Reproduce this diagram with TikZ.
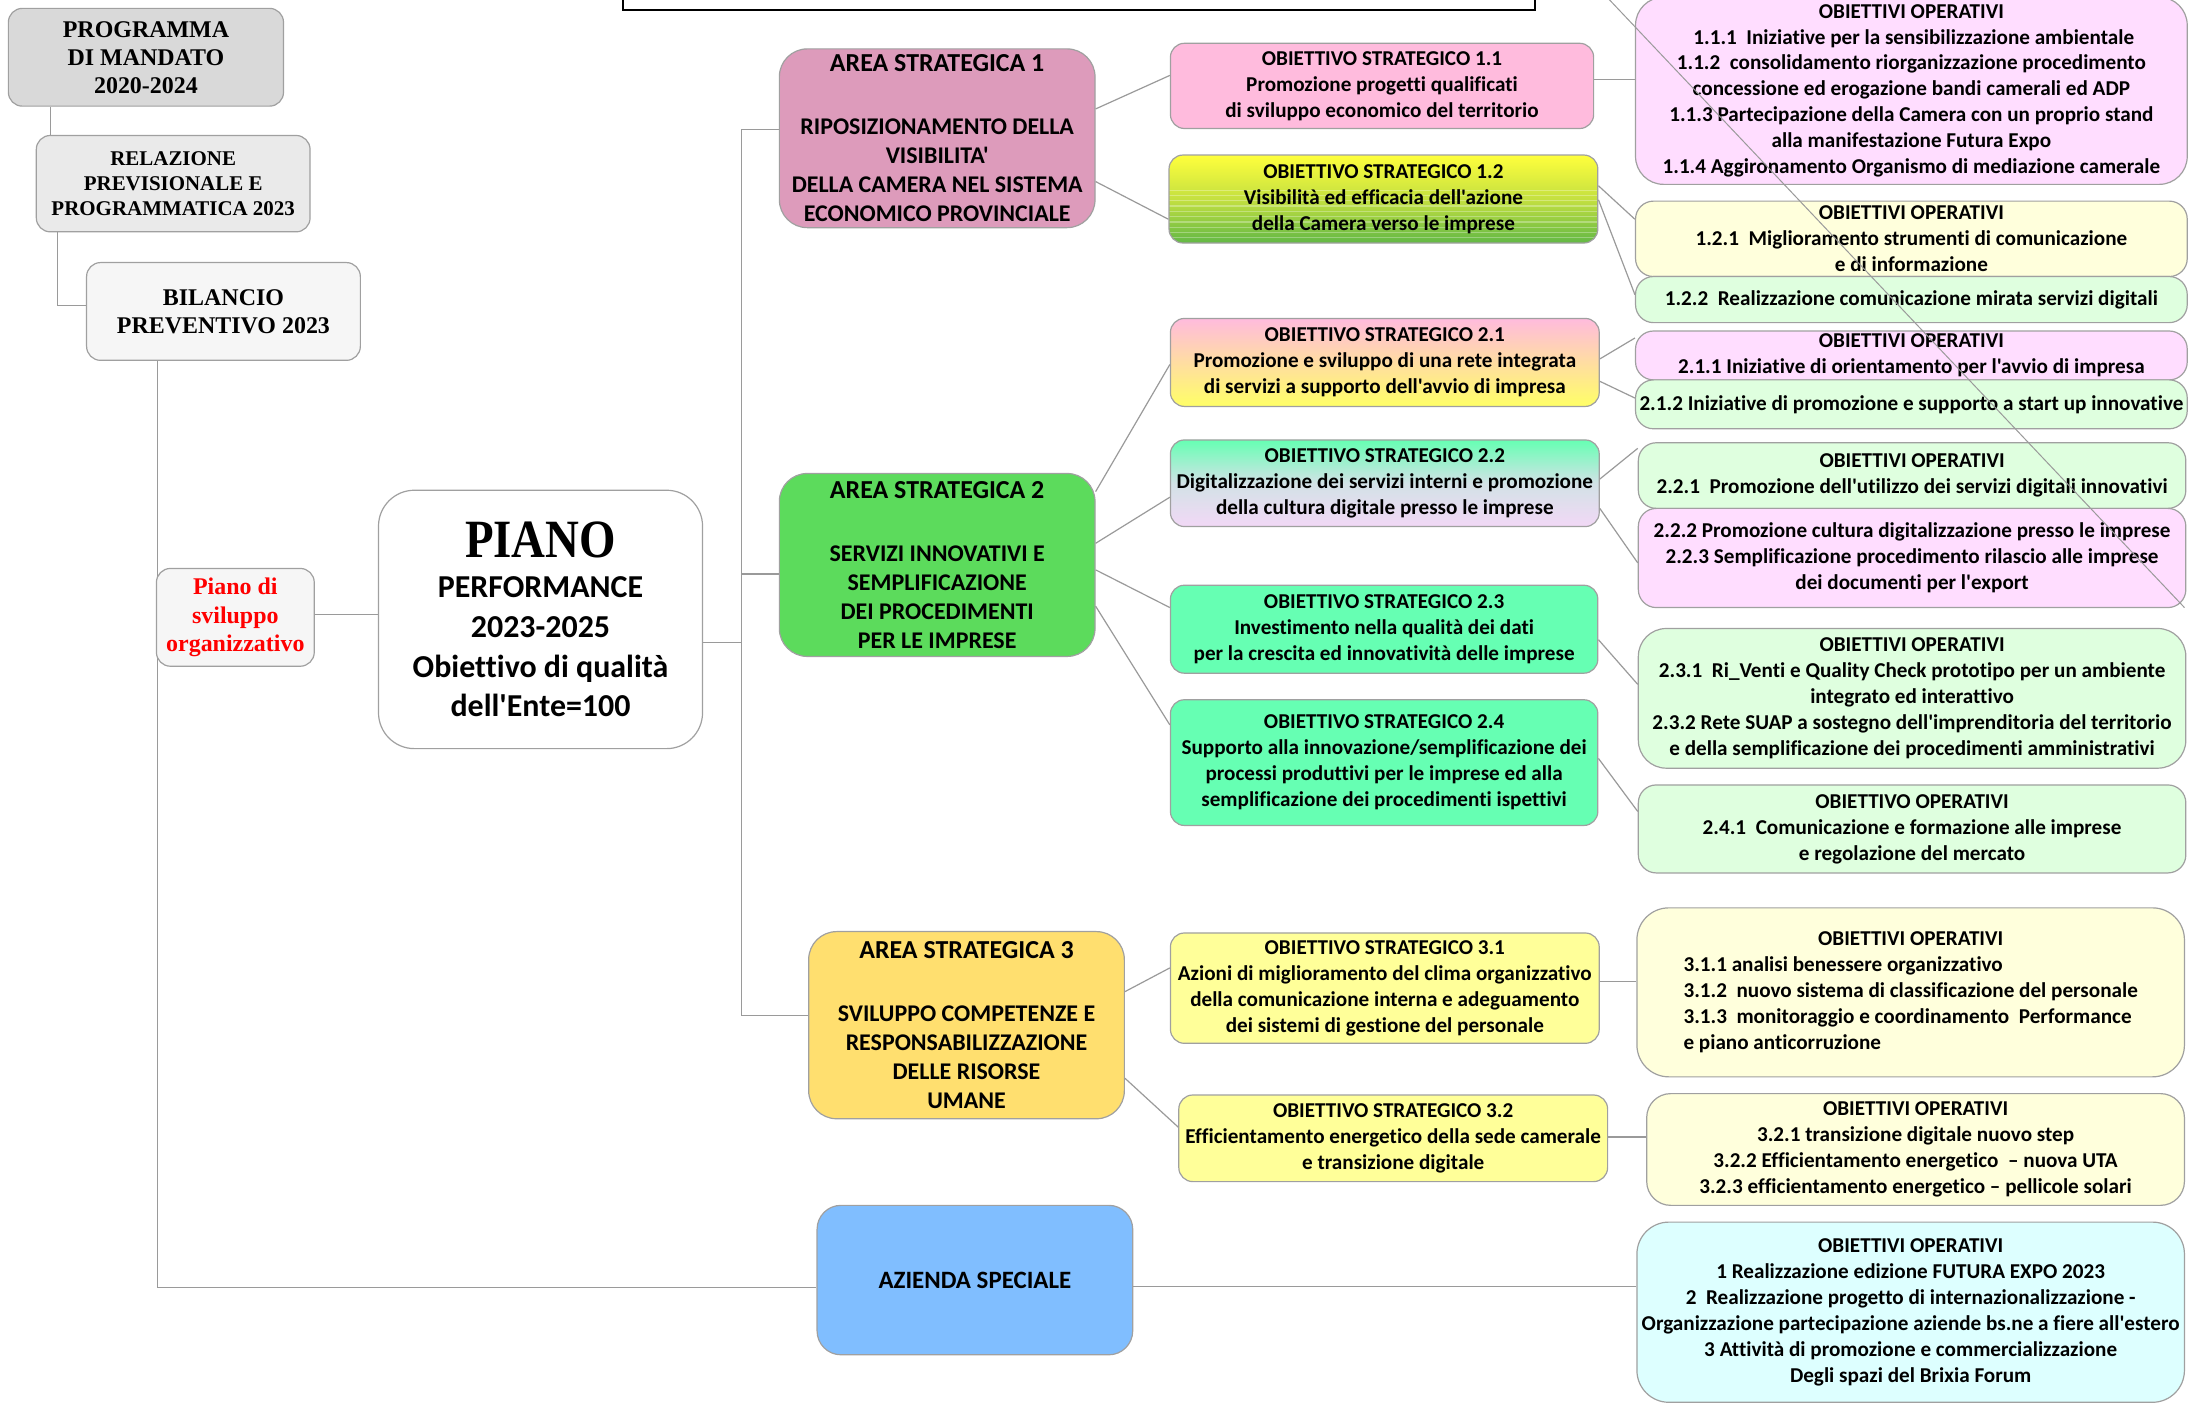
\documentclass[tikz,border=0pt]{standalone}
\usepackage{fontspec}
\setmainfont{Liberation Serif}
\newfontfamily\carl[Ligatures={NoCommon}]{Carlito}
\usetikzlibrary{calc}
\definecolor{bord}{HTML}{A0A0A0}
\definecolor{conncol}{HTML}{9A9A9A}
\definecolor{gA}{HTML}{D9D9D9}
\definecolor{gB}{HTML}{EAEAEA}
\definecolor{gC}{HTML}{F6F6F6}
\definecolor{areaA}{HTML}{DD9BBB}
\definecolor{areaB}{HTML}{5CDB5C}
\definecolor{areaC}{HTML}{FFDF6F}
\definecolor{azcol}{HTML}{80BEFF}
\definecolor{ospink}{HTML}{FFBBDD}
\definecolor{osmint}{HTML}{66FFB3}
\definecolor{osyel}{HTML}{FFFF99}
\definecolor{oopink}{HTML}{FFDDFF}
\definecolor{ooyel}{HTML}{FFFFDC}
\definecolor{oogreen}{HTML}{DFFFDF}
\definecolor{oocyan}{HTML}{DDFFFF}
\definecolor{grTop}{HTML}{FFFF3C}
\definecolor{grMid}{HTML}{C4E040}
\definecolor{grBot}{HTML}{62B845}
\definecolor{g2Mid}{HTML}{D2E2E6}
\definecolor{g2Bot}{HTML}{F2D8F6}
\definecolor{g1Bot}{HTML}{FFFF66}
\tikzset{
  box/.style={draw=bord, line width=0.6pt, rounded corners=7pt, inner sep=0pt, align=center, text=black},
  osbox/.style={box, font=\carl\bfseries\fontsize{10.6}{13}\selectfont},
  oobox/.style={box, rounded corners=9pt, font=\carl\bfseries\fontsize{10.6}{13}\selectfont},
  areabox/.style={box, rounded corners=14pt, font=\carl\bfseries\fontsize{12}{14.6}\selectfont},
  tmsbox/.style={box, font=\rmfamily\bfseries\fontsize{12}{14}\selectfont},
  conn/.style={draw=conncol, line width=0.6pt},
}
\newcommand\bx[7]{\node[#6, minimum width={(#4-#2)*0.7pt}, minimum height={(#5-#3)*0.7pt}] (#1) at ({(#2+#4)/2},{(#3+#5)/2}) {#7};}
\newcommand\atitle[1]{{\fontsize{13}{14.6}\selectfont #1}\\[17pt]}
\begin{document}
\begin{tikzpicture}[x=0.7pt,y=-0.7pt]
\useasboundingbox (0,0) rectangle (1568,1007);
\fill[white] (0,0) rectangle (1568,1007);
% top frame
\draw[black, line width=0.8pt, fill=white] (446,-20) rectangle (1099,7);
% left column
\bx{b1}{6}{6}{203}{76}{tmsbox, fill=gA}{PROGRAMMA\\DI MANDATO\\2020-2024}
\bx{b2}{26}{97}{222}{166}{tmsbox, fill=gB, font=\rmfamily\bfseries\fontsize{10.5}{12.3}\selectfont}{RELAZIONE\\PREVISIONALE E\\PROGRAMMATICA 2023}
\bx{b3}{62}{188}{258}{258}{tmsbox, fill=gC}{BILANCIO\\PREVENTIVO 2023}
\coordinate (tk1) at (531,93);
\coordinate (tk3) at (531,727);
% connectors on the left
\draw[conn] (b1.south -| 36,0) -- (b2.north -| 36,0);
\draw[conn] (b2.south -| 41,0) |- (b3.west |- 0,219);
\bx{az}{585}{863}{811}{970}{areabox, rounded corners=12pt, fill=azcol, font=\carl\bfseries\fontsize{12.5}{15}\selectfont}{AZIENDA SPECIALE}
\draw[conn] (b3.south -| 113,0) |- (az.west |- 0,922);
\bx{ps}{112}{407}{225}{477}{tmsbox, fill=gC, text=red, font=\rmfamily\bfseries\fontsize{12}{14.4}\selectfont}{Piano di\\sviluppo\\organizzativo}
\bx{piano}{271}{351}{503}{536}{box, rounded corners=18pt, fill=white, font=\carl\bfseries\fontsize{16}{20}\selectfont}{\scalebox{0.87}[1]{\rmfamily\fontsize{27}{20}\selectfont PIANO}\\PERFORMANCE\\2023-2025\\Obiettivo di qualità\\dell'Ente=100}
\draw[conn] (ps.east |- 0,440) -- (piano.west |- 0,440);
% areas
\bx{a1}{558}{35}{784}{163}{areabox, fill=areaA}{\atitle{AREA STRATEGICA 1}RIPOSIZIONAMENTO DELLA\\VISIBILITA'\\DELLA CAMERA NEL SISTEMA\\ECONOMICO PROVINCIALE}
\bx{a2}{558}{339}{784}{470}{areabox, fill=areaB}{\atitle{AREA STRATEGICA 2}SERVIZI INNOVATIVI E\\SEMPLIFICAZIONE\\DEI PROCEDIMENTI\\PER LE IMPRESE}
\bx{a3}{579}{667}{805}{801}{areabox, fill=areaC}{\atitle{AREA STRATEGICA 3}SVILUPPO COMPETENZE E\\RESPONSABILIZZAZIONE\\DELLE RISORSE\\UMANE}
\draw[conn] (piano.east |- 0,460) -- (tk1 |- 0,460);
\draw[conn] (a1.west |- tk1) -- (tk1) -- (tk3) -- (a3.west |- tk3);
\draw[conn] (tk1 |- 0,411) -- (a2.west |- 0,411);
% strategic objectives
\bx{os11}{838}{31}{1141}{92}{osbox, fill=ospink}{OBIETTIVO STRATEGICO 1.1\\Promozione progetti qualificati\\di sviluppo economico del territorio}
\bx{os12}{837}{111}{1144}{174}{osbox, top color=grTop, bottom color=grBot, middle color=grMid,
  path picture={\foreach \k in {0.40,0.46,...,0.97} \draw[white, opacity=0.3, line width=0.6pt] ($(path picture bounding box.north west)!\k!(path picture bounding box.south west)$) -- ($(path picture bounding box.north east)!\k!(path picture bounding box.south east)$);}}{OBIETTIVO STRATEGICO 1.2\\Visibilità ed efficacia dell'azione\\della Camera verso le imprese}
\bx{os21}{838}{228}{1145}{291}{osbox, top color=ospink, bottom color=g1Bot}{OBIETTIVO STRATEGICO 2.1\\Promozione e sviluppo di una rete integrata\\di servizi a supporto dell'avvio di impresa}
\bx{os22}{838}{315}{1145}{377}{osbox, top color=osmint, bottom color=g2Bot, middle color=g2Mid}{OBIETTIVO STRATEGICO 2.2\\Digitalizzazione dei servizi interni e promozione\\della cultura digitale presso le imprese}
\bx{os23}{838}{419}{1144}{482}{osbox, fill=osmint}{OBIETTIVO STRATEGICO 2.3\\Investimento nella qualità dei dati\\per la crescita ed innovatività delle imprese}
\bx{os24}{838}{501}{1144}{591}{osbox, fill=osmint}{OBIETTIVO STRATEGICO 2.4\\Supporto alla innovazione/semplificazione dei\\processi produttivi per le imprese ed alla\\semplificazione dei procedimenti ispettivi}
\bx{os31}{838}{668}{1145}{747}{osbox, fill=osyel}{OBIETTIVO STRATEGICO 3.1\\Azioni di miglioramento del clima organizzativo\\della comunicazione interna e adeguamento\\dei sistemi di gestione del personale}
\bx{os32}{844}{784}{1151}{846}{osbox, fill=osyel}{OBIETTIVO STRATEGICO 3.2\\Efficientamento energetico della sede camerale\\e transizione digitale}
\draw[conn] (a1.east |- 0,78) -- (os11.west |- 0,54);
\draw[conn] (a1.east |- 0,130) -- (os12.west |- 0,157);
\draw[conn] (a2.east |- 0,352) -- (os21.west |- 0,261);
\draw[conn] (a2.east |- 0,389) -- (os22.west |- 0,356);
\draw[conn] (a2.east |- 0,408) -- (os23.west |- 0,435);
\draw[conn] (a2.east |- 0,434) -- (os24.west |- 0,519);
\draw[conn] (a3.east |- 0,710) -- (os31.west |- 0,693);
\draw[conn] (a3.east |- 0,772) -- (os32.west |- 0,807);
% operative objectives
\bx{oo11}{1171}{-2}{1566}{132}{oobox, rounded corners=14pt, fill=oopink}{OBIETTIVI OPERATIVI\\~1.1.1~ Iniziative per la sensibilizzazione ambientale\\1.1.2~ consolidamento riorganizzazione procedimento\\concessione ed erogazione bandi camerali ed ADP\\1.1.3 Partecipazione della Camera con un proprio stand\\alla manifestazione Futura Expo\\1.1.4 Aggironamento Organismo di mediazione camerale}
\bx{oo121}{1171}{144}{1566}{198}{oobox, fill=ooyel}{OBIETTIVI OPERATIVI\\1.2.1~ Miglioramento strumenti di comunicazione\\e di informazione}
\bx{oo122}{1171}{198}{1566}{231}{oobox, fill=oogreen}{1.2.2~ Realizzazione comunicazione mirata servizi digitali}
\bx{oo211}{1171}{237}{1566}{272}{oobox, fill=oopink}{OBIETTIVI OPERATIVI\\2.1.1 Iniziative di orientamento per l'avvio di impresa}
\bx{oo212}{1171}{272}{1566}{307}{oobox, fill=oogreen}{2.1.2 Iniziative di promozione e supporto a start up innovative}
\bx{oo221}{1173}{317}{1565}{364}{oobox, fill=oogreen}{OBIETTIVI OPERATIVI\\2.2.1~ Promozione dell'utilizzo dei servizi digitali innovativi}
\bx{oo222}{1173}{364}{1565}{435}{oobox, fill=oopink}{2.2.2 Promozione cultura digitalizzazione presso le imprese\\2.2.3 Semplificazione procedimento rilascio alle imprese\\dei documenti per l'export}
\bx{oo23}{1173}{450}{1565}{550}{oobox, rounded corners=14pt, fill=oogreen}{OBIETTIVI OPERATIVI\\2.3.1~ Ri\_Venti e Quality Check prototipo per un ambiente\\integrato ed interattivo\\2.3.2 Rete SUAP a sostegno dell'imprenditoria del territorio\\e della semplificazione dei procedimenti amministrativi}
\bx{oo24}{1173}{562}{1565}{625}{oobox, fill=oogreen}{OBIETTIVO OPERATIVI\\2.4.1~ Comunicazione e formazione alle imprese\\e regolazione del mercato}
\bx{oo31}{1172}{650}{1564}{771}{oobox, rounded corners=16pt, fill=ooyel}{\begin{tabular}{@{}l@{}}\multicolumn{1}{c}{OBIETTIVI OPERATIVI}\\3.1.1 analisi benessere organizzativo\\3.1.2~ nuovo sistema di classificazione del personale\\3.1.3~ monitoraggio e coordinamento~ Performance\\e piano anticorruzione\end{tabular}}
\bx{oo32}{1179}{783}{1564}{863}{oobox, rounded corners=12pt, fill=ooyel}{OBIETTIVI OPERATIVI\\3.2.1 transizione digitale nuovo step\\3.2.2 Efficientamento energetico~ – nuova UTA\\3.2.3 efficientamento energetico – pellicole solari}
\bx{ooaz}{1172}{875}{1564}{1004}{oobox, rounded corners=16pt, fill=oocyan}{OBIETTIVI OPERATIVI\\1 Realizzazione edizione FUTURA EXPO 2023\\2~ Realizzazione progetto di internazionalizzazione -\\Organizzazione partecipazione aziende bs.ne a fiere all'estero\\3 Attività di promozione e commercializzazione\\Degli spazi del Brixia Forum}
\draw[conn] (os11.east |- 0,57) -- (oo11.west |- 0,57);
\draw[conn] (os12.east |- 0,133) -- (oo121.west |- 0,157);
\draw[conn] (os12.east |- 0,143) -- (oo122.west |- 0,211);
\draw[conn] (os21.east |- 0,257) -- (oo211.west |- 0,242);
\draw[conn] (os21.east |- 0,273) -- (oo212.west |- 0,285);
\draw[conn] (os22.east |- 0,343) -- (oo221.west |- 0,321);
\draw[conn] (os22.east |- 0,364) -- (oo222.west |- 0,403);
\draw[conn] (os23.east |- 0,458) -- (oo23.west |- 0,490);
\draw[conn] (os24.east |- 0,543) -- (oo24.west |- 0,581);
\draw[conn] (os31.east |- 0,703) -- (oo31.west |- 0,703);
\draw[conn] (os32.east |- 0,814) -- (oo32.west |- 0,814);
\draw[conn] (az.east |- 0,921) -- (ooaz.west |- 0,921);
% long diagonal line
\coordinate (dA) at (1143,-10);
\coordinate (dB) at (1564,435);
\draw[conn, line width=0.5pt] (dA) -- (dB);
\end{tikzpicture}
\end{document}
